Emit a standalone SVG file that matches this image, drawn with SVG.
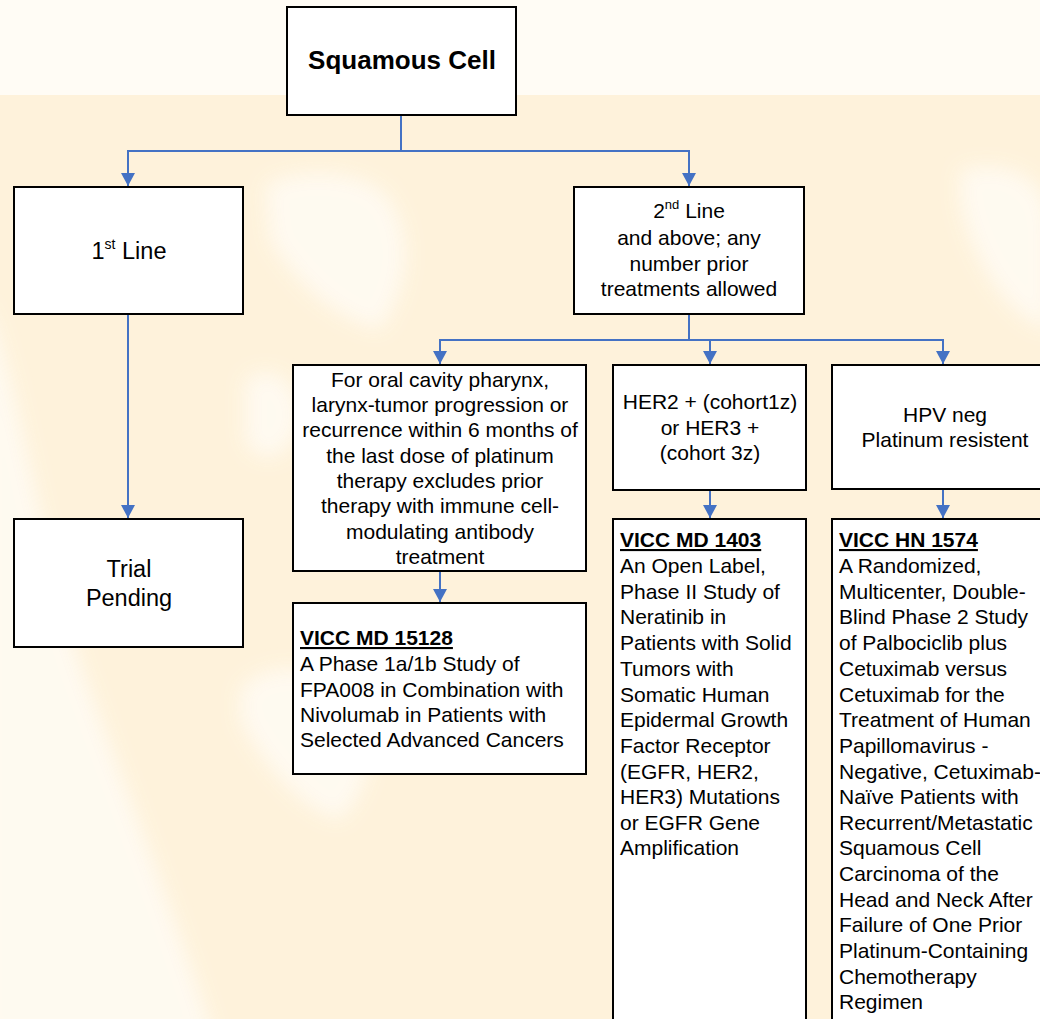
<svg xmlns="http://www.w3.org/2000/svg" width="1040" height="1019" viewBox="0 0 1040 1019">
  <style>
    .box { fill: #ffffff; stroke: #000000; stroke-width: 2; }
    .t { font-family: "Liberation Sans", Arial, sans-serif; font-size: 21px; fill: #000000; }
    .c { text-anchor: middle; }
    .big { font-size: 23.5px; }
    .title { font-size: 26px; font-weight: bold; }
    .hdr { font-weight: bold; text-decoration: underline; }
    .conn { fill: none; stroke: #4472C4; stroke-width: 2; }
  </style>
  <defs>
    <marker id="arr" markerUnits="userSpaceOnUse" markerWidth="14" markerHeight="14" refX="13" refY="7" orient="auto">
      <path d="M0,0 L13,7 L0,14 z" fill="#4472C4"/>
    </marker>
    <filter id="soft" x="-20%" y="-20%" width="140%" height="140%">
      <feGaussianBlur stdDeviation="10"/>
    </filter>
  </defs>

  <g id="background">
    <rect x="0" y="0" width="1040" height="1019" fill="#FEF2DB"/>
    <rect x="0" y="0" width="1040" height="95" fill="#FFFCF5"/>
    <g fill="#FFFBF3" filter="url(#soft)" opacity="0.9">
      <path d="M-20,300 C10,320 40,560 90,690 C130,800 170,900 215,1040 L-20,1040 Z"/>
      <path d="M265,185 C300,165 370,170 390,200 C420,250 400,300 380,330 C340,320 300,290 270,240 Z"/>
      <path d="M240,690 C260,660 330,660 360,700 C380,740 370,790 340,820 C300,810 260,760 240,720 Z"/>
      <path d="M245,380 C270,360 300,380 300,420 C290,460 260,470 245,440 Z"/>
      <path d="M960,170 C1000,160 1050,170 1050,230 L1050,330 C1010,320 970,260 960,200 Z"/>
    </g>
  </g>

  <g id="connectors">
    <path class="conn" d="M401,115 V151"/>
    <path class="conn" d="M401,151 H128 V186" marker-end="url(#arr)"/>
    <path class="conn" d="M401,151 H689 V186" marker-end="url(#arr)"/>
    <path class="conn" d="M128,314 V518" marker-end="url(#arr)"/>
    <path class="conn" d="M689,314 V340"/>
    <path class="conn" d="M689,340 H440 V364" marker-end="url(#arr)"/>
    <path class="conn" d="M689,340 H710 V364" marker-end="url(#arr)"/>
    <path class="conn" d="M689,340 H943 V364" marker-end="url(#arr)"/>
    <path class="conn" d="M440,571 V602" marker-end="url(#arr)"/>
    <path class="conn" d="M710,490 V518" marker-end="url(#arr)"/>
    <path class="conn" d="M943,489 V518" marker-end="url(#arr)"/>
  </g>

  <g id="node-squamous">
    <rect class="box" x="287" y="7" width="229" height="108"/>
    <text class="t c title" x="402" y="69">Squamous Cell</text>
  </g>

  <g id="node-first-line">
    <rect class="box" x="14" y="187" width="229" height="127"/>
    <text class="t c big" x="129" y="259">1<tspan font-size="14" dy="-10">st</tspan><tspan dy="10"> Line</tspan></text>
  </g>

  <g id="node-second-line">
    <rect class="box" x="574" y="187" width="230" height="127"/>
    <text class="t c" x="689" y="218">2<tspan font-size="13" dy="-9">nd</tspan><tspan dy="9"> Line</tspan></text>
    <text class="t c" x="689" y="245">and above; any</text>
    <text class="t c" x="689" y="271">number prior</text>
    <text class="t c" x="689" y="296">treatments allowed</text>
  </g>

  <g id="node-trial-pending">
    <rect class="box" x="14" y="519" width="229" height="128"/>
    <text class="t c big" x="129" y="577">Trial</text>
    <text class="t c big" x="129" y="606">Pending</text>
  </g>

  <g id="node-oral-cavity">
    <rect class="box" x="293" y="365" width="293" height="206"/>
    <text class="t c" x="440" y="387">For oral cavity pharynx,</text>
    <text class="t c" x="440" y="412">larynx-tumor progression or</text>
    <text class="t c" x="440" y="437">recurrence within 6 months of</text>
    <text class="t c" x="440" y="463">the last dose of platinum</text>
    <text class="t c" x="440" y="488">therapy excludes prior</text>
    <text class="t c" x="440" y="513">therapy with immune cell-</text>
    <text class="t c" x="440" y="539">modulating antibody</text>
    <text class="t c" x="440" y="564">treatment</text>
  </g>

  <g id="node-her2">
    <rect class="box" x="613" y="365" width="193" height="125"/>
    <text class="t c" x="710" y="409">HER2 + (cohort1z)</text>
    <text class="t c" x="710" y="435">or HER3 +</text>
    <text class="t c" x="710" y="460">(cohort 3z)</text>
  </g>

  <g id="node-hpv">
    <rect class="box" x="832" y="365" width="215" height="124"/>
    <text class="t c" x="945" y="422">HPV neg</text>
    <text class="t c" x="945" y="447">Platinum resistent</text>
  </g>

  <g id="node-md15128">
    <rect class="box" x="293" y="603" width="293" height="171"/>
    <text class="t hdr" x="300" y="645">VICC MD 15128</text>
    <text class="t" x="300" y="671">A Phase 1a/1b Study of</text>
    <text class="t" x="300" y="697">FPA008 in Combination with</text>
    <text class="t" x="300" y="722">Nivolumab in Patients with</text>
    <text class="t" x="300" y="747">Selected Advanced Cancers</text>
  </g>

  <g id="node-md1403">
    <rect class="box" x="613" y="519" width="193" height="520"/>
    <text class="t hdr" x="620" y="547">VICC MD 1403</text>
    <text class="t" x="620" y="573">An Open Label,</text>
    <text class="t" x="620" y="599">Phase II Study of</text>
    <text class="t" x="620" y="624">Neratinib in</text>
    <text class="t" x="620" y="650">Patients with Solid</text>
    <text class="t" x="620" y="676">Tumors with</text>
    <text class="t" x="620" y="702">Somatic Human</text>
    <text class="t" x="620" y="727">Epidermal Growth</text>
    <text class="t" x="620" y="753">Factor Receptor</text>
    <text class="t" x="620" y="779">(EGFR, HER2,</text>
    <text class="t" x="620" y="804">HER3) Mutations</text>
    <text class="t" x="620" y="830">or EGFR Gene</text>
    <text class="t" x="620" y="855">Amplification</text>
  </g>

  <g id="node-hn1574">
    <rect class="box" x="832" y="519" width="215" height="520"/>
    <text class="t hdr" x="839" y="547">VICC HN 1574</text>
    <text class="t" x="839" y="573">A Randomized,</text>
    <text class="t" x="839" y="599">Multicenter, Double-</text>
    <text class="t" x="839" y="624">Blind Phase 2 Study</text>
    <text class="t" x="839" y="650">of Palbociclib plus</text>
    <text class="t" x="839" y="676">Cetuximab versus</text>
    <text class="t" x="839" y="702">Cetuximab for the</text>
    <text class="t" x="839" y="727">Treatment of Human</text>
    <text class="t" x="839" y="753">Papillomavirus -</text>
    <text class="t" x="839" y="779">Negative, Cetuximab-</text>
    <text class="t" x="839" y="804">Naïve Patients with</text>
    <text class="t" x="839" y="830">Recurrent/Metastatic</text>
    <text class="t" x="839" y="855">Squamous Cell</text>
    <text class="t" x="839" y="881">Carcinoma of the</text>
    <text class="t" x="839" y="907">Head and Neck After</text>
    <text class="t" x="839" y="932">Failure of One Prior</text>
    <text class="t" x="839" y="958">Platinum-Containing</text>
    <text class="t" x="839" y="984">Chemotherapy</text>
    <text class="t" x="839" y="1009">Regimen</text>
  </g>
</svg>
